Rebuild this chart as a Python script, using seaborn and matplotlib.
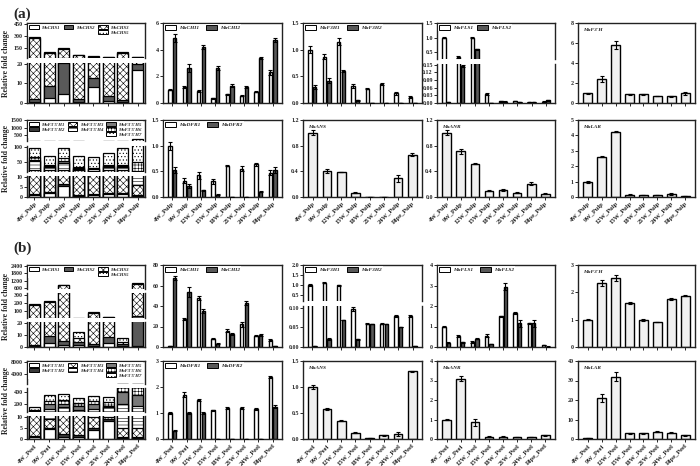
import numpy as np
import pandas as pd
import matplotlib
matplotlib.use("Agg")
import matplotlib.pyplot as plt
import seaborn as sns
from matplotlib.patches import Patch

sns.set_style("ticks")
plt.rcParams['font.family'] = ['Liberation Serif', 'DejaVu Serif']
plt.rcParams['font.weight'] = 'bold'
plt.rcParams['hatch.linewidth'] = 0.4
plt.rcParams['axes.linewidth'] = 1.0

# ---------------- data ----------------
pulp = ["4W_Pulp", "9W_Pulp", "12W_Pulp", "15W_Pulp", "18W_Pulp", "21W_Pulp", "24W_Pulp", "Ripe_Pulp"]
peel = ["4W_Peel", "9W_Peel", "12W_Peel", "15W_Peel", "18W_Peel", "21W_Peel", "24W_Peel", "Ripe_Peel"]

# (a) pulp
a_chs1 = [0.5, 2.5, 4.5, 0.3, 8.0, 1.0, 0.5, 17.0]
a_chs2 = [1.5, 6.0, 16.0, 1.5, 5.0, 2.5, 1.0, 3.0]
a_chs3 = [270, 80, 120, 55, 28, 33, 90, 15]
a_chs5 = [20, 10, 10, 4, 4, 4, 9, 5]

a_chi1 = [1.0, 1.2, 0.9, 0.35, 0.65, 0.55, 0.85, 2.3]
a_chi1_err = [0.05, 0.05, 0.05, 0.05, 0.05, 0.05, 0.05, 0.2]
a_chi2 = [4.9, 2.6, 4.2, 2.65, 1.3, 1.2, 3.35, 4.7]
a_chi2_err = [0.3, 0.3, 0.15, 0.15, 0.12, 0.05, 0.08, 0.15]

a_f3h1 = [1.0, 0.87, 1.15, 0.32, 0.27, 0.35, 0.18, 0.12]
a_f3h1_err = [0.07, 0.05, 0.06, 0.04, 0.01, 0.02, 0.03, 0.02]
a_f3h2 = [0.3, 0.42, 0.6, 0.05, 0.0, 0.0, 0.0, 0.0]
a_f3h2_err = [0.03, 0.04, 0.01, 0.01, 0, 0, 0, 0]

a_fls1 = [1.0, 0.33, 1.0, 0.035, 0.006, 0.008, 0.003, 0.005]
a_fls1_err = [0.02, 0.02, 0.02, 0.004, 0.001, 0.001, 0.001, 0.001]
a_fls2 = [0.002, 0.145, 0.6, 0.001, 0.005, 0.002, 0.002, 0.01]
a_fls2_err = [0, 0.003, 0.02, 0, 0.001, 0, 0, 0.002]

a_f3ph = [1.0, 2.4, 5.8, 0.9, 0.9, 0.7, 0.7, 1.0]
a_f3ph_err = [0.05, 0.3, 0.4, 0.05, 0.05, 0.03, 0.05, 0.15]

a_f35h1 = [1.0, 2.0, 5.5, 0.5, 1.0, 1.5, 1.5, 0.5]
a_f35h2 = [0.3, 0.5, 1.0, 0.3, 0.3, 0.5, 0.5, 0.3]
a_f35h3 = [20, 20, 15, 20, 18, 20, 20, 5]
a_f35h4 = [30, 10, 25, 5, 5, 10, 10, 10]
a_f35h5 = [3, 2, 5, 2, 2, 3, 3, 2]
a_f35h6 = [10, 5, 10, 5, 3, 5, 5, 30]
a_f35h7 = [30, 30, 35, 35, 35, 38, 55, 200]

a_dfr1 = [1.0, 0.32, 0.42, 0.31, 0.61, 0.55, 0.64, 0.47]
a_dfr1_err = [0.08, 0.05, 0.06, 0.05, 0.01, 0.05, 0.03, 0.05]
a_dfr2 = [0.53, 0.21, 0.13, 0.04, 0.005, 0.0, 0.1, 0.52]
a_dfr2_err = [0.06, 0.04, 0.01, 0.01, 0, 0, 0.01, 0.06]

a_ans = [1.0, 0.41, 0.39, 0.07, 0.005, 0.003, 0.29, 0.66]
a_ans_err = [0.04, 0.03, 0.0, 0.005, 0, 0, 0.05, 0.02]
a_anr = [1.0, 0.71, 0.52, 0.1, 0.11, 0.07, 0.21, 0.05]
a_anr_err = [0.04, 0.04, 0.005, 0.005, 0.01, 0.005, 0.02, 0.005]
a_lar = [1.0, 2.62, 4.25, 0.15, 0.12, 0.12, 0.2, 0.07]
a_lar_err = [0.06, 0.04, 0.04, 0.05, 0.02, 0.02, 0.05, 0.02]

# (b) peel
b_chs1 = [1, 3, 2, 2, 0.5, 3, 0.5, 0.5]
b_chs2 = [1, 6, 3, 2, 2, 5, 2, 40]
b_chs3 = [170, 200, 850, 3, 70, 20, 2, 900]
b_chs5 = [8, 10, 45, 5, 15, 5, 3, 60]

b_chi1 = [0.8, 27, 48, 8, 16, 22, 11, 7]
b_chi1_err = [0.3, 1, 2, 0.5, 1.5, 2, 0.5, 1]
b_chi2 = [67, 54, 35, 3, 13, 43, 12, 1]
b_chi2_err = [2, 5, 2, 0.5, 1, 2, 1, 0.3]

b_f3h1 = [1.0, 1.12, 0.98, 0.098, 0.06, 0.06, 0.08, 0.08]
b_f3h1_err = [0.04, 0.03, 0.03, 0.005, 0.001, 0.001, 0.002, 0.002]
b_f3h2 = [0.003, 0.02, 0.07, 0.02, 0.06, 0.06, 0.05, 0.003]
b_f3h2_err = [0, 0.003, 0, 0.001, 0, 0, 0, 0]

b_fls1 = [1.0, 0.52, 0.25, 0.55, 1.5, 1.65, 1.15, 0.1]
b_fls1_err = [0.02, 0.05, 0.05, 0.08, 0.03, 0.05, 0.03, 0.02]
b_fls2 = [0.2, 0.22, 0.4, 0.15, 2.95, 1.15, 1.15, 0.02]
b_fls2_err = [0.02, 0.02, 0.02, 0.02, 0.15, 0.15, 0.15, 0.01]

b_f3ph = [1.0, 2.35, 2.52, 1.62, 0.98, 0.92, 1.75, 1.88]
b_f3ph_err = [0.03, 0.1, 0.1, 0.03, 0.03, 0.01, 0.03, 0.03]

b_f35h1 = [1, 4.5, 1, 1, 4, 8, 0.5, 0.5]
b_f35h2 = [0.5, 0.5, 1.5, 1, 1, 1, 0.5, 0.5]
b_f35h3 = [20, 4, 15, 15, 5, 1, 4, 4]
b_f35h4 = [50, 100, 120, 80, 100, 130, 200, 150]
b_f35h5 = [10, 80, 60, 60, 80, 30, 200, 200]
b_f35h6 = [18, 60, 70, 50, 60, 60, 200, 200]
b_f35h7 = [50, 101, 102, 93, 80, 90, 195, 295]

b_dfr1 = [1.0, 1.7, 1.5, 1.1, 1.2, 1.2, 1.15, 2.38]
b_dfr1_err = [0.05, 0.1, 0.05, 0.03, 0.03, 0.03, 0.03, 0.05]
b_dfr2 = [0.32, 1.0, 1.0, 0.0, 0.0, 0.0, 0.0, 1.25]
b_dfr2_err = [0.03, 0.03, 0.03, 0, 0, 0, 0, 0.05]

b_ans = [1.0, 0.58, 0.35, 0.12, 0.02, 0.07, 0.1, 1.3]
b_ans_err = [0.03, 0.02, 0.01, 0.01, 0, 0.01, 0.04, 0.01]
b_anr = [1.0, 3.1, 0.85, 0.12, 0.12, 0.1, 0.1, 0.18]
b_anr_err = [0.03, 0.15, 0.2, 0.01, 0.01, 0.01, 0.01, 0.01]
b_lar = [0.5, 21, 32, 3, 3, 3.8, 3.2, 1.8]
b_lar_err = [0.1, 2, 2.5, 0.2, 0.2, 0.2, 0.2, 0.2]

# ---------------- layout helpers ----------------
W, H = 700, 466
fig = plt.figure(figsize=(7, 4.66), dpi=100)

C1, C2, C3, C4, C5 = (27, 145), (163, 282), (303, 422), (437, 555), (578, 695)
R1, R2, R3, R4 = (23, 103), (120, 197), (265, 347), (361, 439)

G1 = "#ffffff"
G2 = "#595959"
GS = "#f0f0f0"
TICK_FS = 4.3
XTICK_FS = 4.7
LEG_FS = 3.9
STACK_LEG_FS = 3.4


def px_axes(l, t, r, b):
    return fig.add_axes([l / W, 1 - b / H, (r - l) / W, (b - t) / H])


def style_ax(ax, show_xlabels, labels, top=True, bottom=True):
    ax.set_xlabel("")
    ax.set_ylabel("")
    for s in ax.spines.values():
        s.set_color("#222222")
        s.set_linewidth(1.0)
    ax.spines['top'].set_visible(top)
    ax.spines['bottom'].set_visible(bottom)
    ax.tick_params(axis='both', length=2, width=0.7, pad=1, labelsize=TICK_FS)
    if bottom:
        ax.set_xticks(range(len(labels)))
        if show_xlabels:
            ax.set_xticklabels(labels, rotation=45, ha='right', rotation_mode='anchor',
                               fontsize=XTICK_FS, fontweight='bold')
        else:
            ax.set_xticklabels([])
    else:
        ax.tick_params(axis='x', bottom=False, labelbottom=False)
    for t in ax.get_yticklabels():
        t.set_fontweight('bold')


def draw_grouped(ax, labels, series, names, errs, colors, width=0.62, gap=0.25):
    n = len(labels)
    df = pd.DataFrame({
        'stage': np.tile(labels, len(series)),
        'value': np.concatenate([np.asarray(s, float) for s in series]),
        'gene': np.repeat(names, n),
    })
    n0 = len(ax.patches)
    sns.barplot(data=df, x='stage', y='value', hue='gene', order=labels, hue_order=names,
                palette=colors, saturation=1, edgecolor='black', linewidth=1.0,
                errorbar=None, width=width, gap=gap if len(series) > 1 else 0,
                legend=False, ax=ax)
    bars = ax.patches[n0:]
    xs = [p.get_x() + p.get_width() / 2 for p in bars]
    ax.errorbar(xs, df['value'].values, yerr=np.concatenate(errs), fmt='none', ecolor='black',
                elinewidth=0.8, capsize=1.6, capthick=0.8, zorder=5)


def draw_stacked(ax, labels, layers, styles, width=0.74):
    cum = np.cumsum(np.vstack(layers), axis=0)
    for k in range(len(layers) - 1, -1, -1):
        n0 = len(ax.patches)
        sns.barplot(x=labels, y=cum[k], order=labels, color=styles[k][0], saturation=1,
                    edgecolor='black', linewidth=0.9, width=width, errorbar=None, ax=ax)
        for p in ax.patches[n0:]:
            p.set_hatch(styles[k][1])


def gene_legend(ax, names, colors, hatches=None, ncol=2, blank_slots=None, fs=LEG_FS,
                colsp=1.2):
    handles = []
    for i, (nm, c) in enumerate(zip(names, colors)):
        h = hatches[i] if hatches else ''
        handles.append(Patch(facecolor=c, edgecolor='black', hatch=h, linewidth=0.7, label=nm))
    if blank_slots:
        for pos in blank_slots:
            handles.insert(pos, Patch(visible=False, label=''))
    leg = ax.legend(handles=handles, loc='upper left', ncol=ncol, frameon=True,
                    prop={'size': fs, 'style': 'italic', 'weight': 'bold'},
                    handlelength=2.0, handleheight=0.8, columnspacing=colsp, handletextpad=0.6,
                    borderaxespad=0.25, borderpad=0.2, labelspacing=0.12, fancybox=False)
    leg.get_frame().set_facecolor('white')
    leg.get_frame().set_edgecolor('none')
    leg.set_zorder(10)


def simple_panel(col, row, labels, series, names, errs, colors, ylim, yticks, show_x,
                 single_label=None):
    ax = px_axes(col[0], row[0], col[1], row[1])
    draw_grouped(ax, labels, series, names, errs, colors)
    ax.set_ylim(*ylim)
    ax.set_yticks(yticks)
    style_ax(ax, show_x, labels)
    if single_label:
        ax.text(0.04, 0.94, single_label, transform=ax.transAxes, ha='left', va='top',
                fontsize=LEG_FS, style='italic', fontweight='bold')
    else:
        gene_legend(ax, names, colors)
    return ax


def broken_panel(col, segs, labels, drawer, show_x):
    axes = []
    for i, (t, b, ylim, yticks) in enumerate(segs):
        ax = px_axes(col[0], t, col[1], b)
        drawer(ax)
        ax.set_ylim(*ylim)
        ax.set_yticks(yticks)
        style_ax(ax, show_x, labels, top=(i == 0), bottom=(i == len(segs) - 1))
        axes.append(ax)
    return axes


# ---------------- (a) row 1 ----------------
chs_styles = [(G1, ''), (G2, ''), ("#ffffff", 'xxxxx'), ("#ffffff", '.....')]
chs_names = ["MaCHS1", "MaCHS2", "MaCHS3", "MaCHS5"]
axs = broken_panel(C1, [(23, 58, (25, 460), [150, 300, 450]),
                        (63, 103, (0, 20.5), [0, 10, 20])], pulp,
                   lambda ax: draw_stacked(ax, pulp, [a_chs1, a_chs2, a_chs3, a_chs5], chs_styles),
                   False)
gene_legend(axs[0], chs_names, [s[0] for s in chs_styles], [s[1] for s in chs_styles],
            ncol=3, blank_slots=[1, 3], fs=STACK_LEG_FS, colsp=0.8)

simple_panel(C2, R1, pulp, [a_chi1, a_chi2], ["MaCHI1", "MaCHI2"], [a_chi1_err, a_chi2_err],
             [G1, G2], (0, 6), [0, 2, 4, 6], False)
simple_panel(C3, R1, pulp, [a_f3h1, a_f3h2], ["MaF3H1", "MaF3H2"], [a_f3h1_err, a_f3h2_err],
             [G1, G2], (0, 1.5), [0.0, 0.5, 1.0, 1.5], False)
axs = broken_panel(C4, [(23, 59, (0.26, 1.5), [0.5, 1.0, 1.5]),
                        (64, 103, (0, 0.152), [0.0, 0.03, 0.06, 0.09, 0.12, 0.15])], pulp,
                   lambda ax: draw_grouped(ax, pulp, [a_fls1, a_fls2], ["MaFLS1", "MaFLS2"],
                                           [a_fls1_err, a_fls2_err], [G1, G2]),
                   False)
axs[1].set_yticklabels(["0.00", "0.03", "0.06", "0.09", "0.12", "0.15"], fontweight='bold')
gene_legend(axs[0], ["MaFLS1", "MaFLS2"], [G1, G2], colsp=0.6)
simple_panel(C5, R1, pulp, [a_f3ph], ["MaF3'H"], [a_f3ph_err], [GS], (0, 8), [0, 2, 4, 6, 8],
             False, single_label="MaF3'H")

# ---------------- (a) row 2 ----------------
f35_styles = [(G1, ''), ("#3a3a3a", ''), ("#ffffff", 'xxxxx'), ("#ffffff", '-----'),
              ("#7a7a7a", ''), ("#ffffff", '+++++'), ("#ffffff", '.....')]
f35_names = ["MaF3'5'H1", "MaF3'5'H2", "MaF3'5'H3", "MaF3'5'H4", "MaF3'5'H5", "MaF3'5'H6", "MaF3'5'H7"]
a_f35 = [a_f35h1, a_f35h2, a_f35h3, a_f35h4, a_f35h5, a_f35h6, a_f35h7]
axs = broken_panel(C1, [(120, 141, (100, 1500), [500, 1000, 1500]),
                        (146, 172, (15, 102), [50, 100]),
                        (176, 197, (0, 10.3), [0, 5, 10])], pulp,
                   lambda ax: draw_stacked(ax, pulp, a_f35, f35_styles), True)
gene_legend(axs[0], f35_names, [s[0] for s in f35_styles], [s[1] for s in f35_styles],
            ncol=3, blank_slots=[2, 5], fs=STACK_LEG_FS, colsp=0.6)

simple_panel(C2, R2, pulp, [a_dfr1, a_dfr2], ["MaDFR1", "MaDFR2"], [a_dfr1_err, a_dfr2_err],
             [G1, G2], (0, 1.5), [0.0, 0.5, 1.0, 1.5], True)
simple_panel(C3, R2, pulp, [a_ans], ["MaANS"], [a_ans_err], [GS], (0, 1.2),
             [0.0, 0.4, 0.8, 1.2], True, single_label="MaANS")
simple_panel(C4, R2, pulp, [a_anr], ["MaANR"], [a_anr_err], [GS], (0, 1.2),
             [0.0, 0.4, 0.8, 1.2], True, single_label="MaANR")
simple_panel(C5, R2, pulp, [a_lar], ["MaLAR"], [a_lar_err], [GS], (0, 5),
             [0, 1, 2, 3, 4, 5], True, single_label="MaLAR")

# ---------------- (b) row 3 ----------------
axs = broken_panel(C1, [(265, 289, (550, 2450), [600, 1200, 1800, 2400]),
                        (293, 318, (15, 320), [100, 200, 300]),
                        (322, 347, (0, 20.5), [0, 10, 20])], peel,
                   lambda ax: draw_stacked(ax, peel, [b_chs1, b_chs2, b_chs3, b_chs5], chs_styles),
                   False)
gene_legend(axs[0], chs_names, [s[0] for s in chs_styles], [s[1] for s in chs_styles],
            ncol=3, blank_slots=[1, 3], fs=STACK_LEG_FS, colsp=0.8)

simple_panel(C2, R3, peel, [b_chi1, b_chi2], ["MaCHI1", "MaCHI2"], [b_chi1_err, b_chi2_err],
             [G1, G2], (0, 80), [0, 20, 40, 60, 80], False)
axs = broken_panel(C3, [(265, 301, (0.2, 2.0), [0.5, 1.0, 1.5, 2.0]),
                        (306, 347, (0, 0.105), [0.0, 0.05, 0.10])], peel,
                   lambda ax: draw_grouped(ax, peel, [b_f3h1, b_f3h2], ["MaF3H1", "MaF3H2"],
                                           [b_f3h1_err, b_f3h2_err], [G1, G2]),
                   False)
axs[1].set_yticklabels(["0.00", "0.05", "0.10"], fontweight='bold')
gene_legend(axs[0], ["MaF3H1", "MaF3H2"], [G1, G2])
simple_panel(C4, R3, peel, [b_fls1, b_fls2], ["MaFLS1", "MaFLS2"], [b_fls1_err, b_fls2_err],
             [G1, G2], (0, 4), [0, 1, 2, 3, 4], False)
simple_panel(C5, R3, peel, [b_f3ph], ["MaF3'H"], [b_f3ph_err], [GS], (0, 3), [0, 1, 2, 3],
             False, single_label="MaF3'H")

# ---------------- (b) row 4 ----------------
b_f35 = [b_f35h1, b_f35h2, b_f35h3, b_f35h4, b_f35h5, b_f35h6, b_f35h7]
axs = broken_panel(C1, [(361, 384, (700, 8300), [4000, 8000]),
                        (388, 412, (60, 470), [200, 400]),
                        (416, 439, (0, 10.5), [0, 5, 10])], peel,
                   lambda ax: draw_stacked(ax, peel, b_f35, f35_styles), True)
gene_legend(axs[0], f35_names, [s[0] for s in f35_styles], [s[1] for s in f35_styles],
            ncol=3, blank_slots=[2, 5], fs=STACK_LEG_FS, colsp=0.6)

simple_panel(C2, R4, peel, [b_dfr1, b_dfr2], ["MaDFR1", "MaDFR2"], [b_dfr1_err, b_dfr2_err],
             [G1, G2], (0, 3), [0, 1, 2, 3], True)
simple_panel(C3, R4, peel, [b_ans], ["MaANS"], [b_ans_err], [GS], (0, 1.5),
             [0.0, 0.5, 1.0, 1.5], True, single_label="MaANS")
simple_panel(C4, R4, peel, [b_anr], ["MaANR"], [b_anr_err], [GS], (0, 4),
             [0, 1, 2, 3, 4], True, single_label="MaANR")
simple_panel(C5, R4, peel, [b_lar], ["MaLAR"], [b_lar_err], [GS], (0, 40),
             [0, 10, 20, 30, 40], True, single_label="MaLAR")

# ---------------- labels ----------------
fig.text(13 / W, 1 - 14 / H, "(a)", fontsize=11, fontweight='bold', va='center', ha='left')
fig.text(13 / W, 1 - 248 / H, "(b)", fontsize=11, fontweight='bold', va='center', ha='left')
for yc in [63, 158, 306, 400]:
    fig.text(6 / W, 1 - yc / H, "Relative fold change", rotation=90, fontsize=5.6,
             fontweight='bold', va='center', ha='center')

fig.savefig("out.png", dpi=100)
